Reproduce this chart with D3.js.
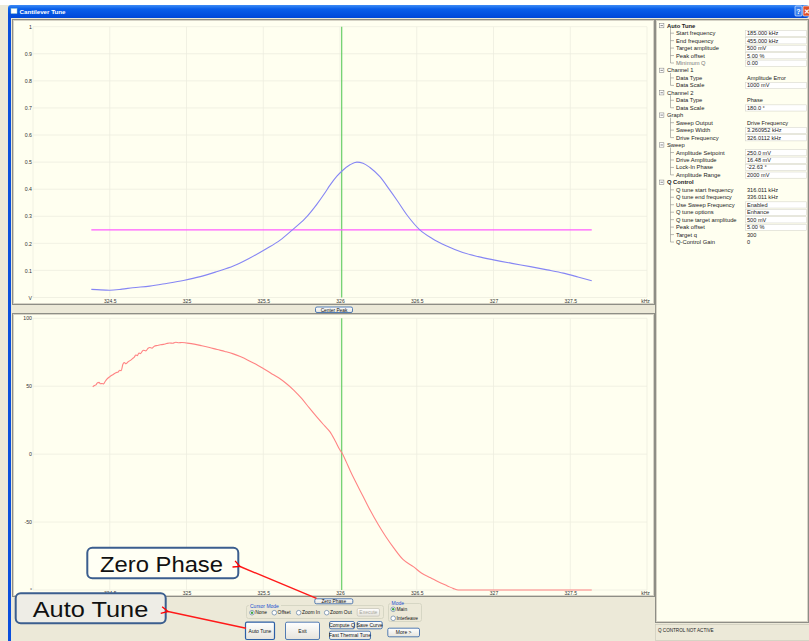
<!DOCTYPE html>
<html><head><meta charset="utf-8">
<script src="https://cdn.jsdelivr.net/npm/d3@7"></script>
<style>body{margin:0;background:#fff;overflow:hidden} text{font-family:"Liberation Sans",Arial,sans-serif;}</style>
</head><body><svg id="c" width="809" height="641"></svg>
<script>
// ---------------- DATA ----------------
const ampFreq = [324.38,324.44,324.50,324.58,324.65,324.76,324.87,324.98,325.09,325.20,325.305,325.41,325.52,325.61,325.69,325.77,325.85,325.90,325.935,325.98,326.015,326.065,326.11,326.15,326.195,326.26,326.32,326.37,326.44,326.52,326.60,326.695,326.80,326.90,327.00,327.12,327.24,327.35,327.455,327.55,327.64];
const ampVal  = [0.030,0.028,0.027,0.031,0.036,0.042,0.052,0.063,0.077,0.096,0.116,0.145,0.180,0.212,0.250,0.290,0.345,0.385,0.415,0.448,0.468,0.490,0.500,0.496,0.480,0.446,0.400,0.360,0.302,0.250,0.218,0.190,0.166,0.151,0.139,0.126,0.114,0.102,0.090,0.076,0.062];
const setpointFreq = [324.38, 327.64];
const setpointVal = 0.25;
const cursorFreq = 326.0112;
const phaseFreq = [324.389,324.40,324.41,324.42,324.43,324.44,324.45,324.46,324.47,324.48,324.50,324.52,324.54,324.555,324.565,324.575,324.585,324.595,324.605,324.62,324.635,324.65,324.66,324.67,324.68,324.69,324.70,324.71,324.72,324.735,324.75,324.76,324.775,324.79,324.81,324.83,324.85,324.87,324.89,324.91,324.93,324.95,324.97,325.00,325.05,325.10,325.15,325.20,325.25,325.30,325.35,325.40,325.45,325.50,325.55,325.60,325.65,325.70,325.75,325.80,325.85,325.90,325.935,325.97,326.00,326.015,326.04,326.065,326.10,326.15,326.195,326.25,326.30,326.35,326.41,326.48,326.53,326.59,326.64,326.70,326.74,326.77,327.64];
const phaseVal  = [49.5,50.5,51,52.5,52.8,51.8,52.0,51.7,53.5,55,57,58.5,60,60.5,61.8,61.5,66,67.5,66.5,68,69,70.5,71.5,73,72.5,74.5,74,75.5,76.5,76,78,78.5,78,79.5,80,80.5,80.8,81.4,81.8,81.6,82.4,82,82.2,81.8,81,79.8,78.5,77,75.6,74,71.8,69.2,66.3,63,59.6,56.2,52,47,41,34,27.2,20.8,16.4,9.5,3,0.5,-5.5,-11.8,-20,-31,-41,-52,-61,-69,-77.5,-83,-87.5,-91,-94,-97,-99,-100,-100];
const xTicks = [324, 324.5, 325, 325.5, 326, 326.5, 327, 327.5, 328];
const xTickLabels = ["", "324.5", "325", "325.5", "326", "326.5", "327", "327.5", "kHz"];
const ampTicks = [0, 0.1, 0.2, 0.3, 0.4, 0.5, 0.6, 0.7, 0.8, 0.9, 1];
const ampTickLabels = ["V", "0.1", "0.2", "0.3", "0.4", "0.5", "0.6", "0.7", "0.8", "0.9", "1"];
const phaseTicks = [-100, -50, 0, 50, 100];
const phaseTickLabels = ["°", "-50", "0", "50", "100"];
const treeLabels = ["Auto Tune","Start frequency","End frequency","Target amplitude","Peak offset","Minimum Q","Channel 1","Data Type","Data Scale","Channel 2","Data Type","Data Scale","Graph","Sweep Output","Sweep Width","Drive Frequency","Sweep","Amplitude Setpoint","Drive Amplitude","Lock-In Phase","Amplitude Range","Q Control","Q tune start frequency","Q tune end frequency","Use Sweep Frequency","Q tune options","Q tune target amplitude","Peak offset","Target q","Q-Control Gain"];
const treeValues = ["","185.000 kHz","455.000 kHz","500 mV","5.00 %","0.00","","Amplitude Error","1000 mV","","Phase","180.0 °","","Drive Frequency","3.260952 kHz","326.0112 kHz","","250.0 mV","16.48 mV","-22.63 °","2000 mV","","316.011 kHz","336.011 kHz","Enabled","Enhance","500 mV","5.00 %","300","0"];
const treeBoxed = [0,1,1,1,1,1,0,0,1,0,0,1,0,0,1,1,0,1,1,1,1,0,0,0,1,1,1,1,0,0];
const treeBold = ["Auto Tune","Q Control"];

// ---------------- DRAW ----------------
const svg = d3.select("#c");
const defs = svg.append("defs");
const tg = defs.append("linearGradient").attr("id","tb").attr("x1",0).attr("y1",0).attr("x2",0).attr("y2",1);
tg.append("stop").attr("offset","0%").attr("stop-color","#3D8BF5");
tg.append("stop").attr("offset","30%").attr("stop-color","#0A5FEA");
tg.append("stop").attr("offset","100%").attr("stop-color","#0047D8");
const bg = defs.append("linearGradient").attr("id","btn").attr("x1",0).attr("y1",0).attr("x2",0).attr("y2",1);
bg.append("stop").attr("offset","0%").attr("stop-color","#FFFFFF");
bg.append("stop").attr("offset","100%").attr("stop-color","#E6E4DC");

svg.append("rect").attr("width",809).attr("height",641).attr("fill","#ECE9D8");
svg.append("rect").attr("width",809).attr("height",5).attr("fill","#FFFFFF");
svg.append("rect").attr("x",8).attr("y",5).attr("width",801).attr("height",13).attr("rx",3).attr("fill","url(#tb)");
svg.append("rect").attr("x",8).attr("y",14).attr("width",3).attr("height",627).attr("fill","#0A4FDC");
svg.append("rect").attr("x",11).attr("y",8.5).attr("width",6).attr("height",5).attr("fill","#fff").attr("stroke","#9CC").attr("stroke-width",0.5);
svg.append("text").attr("x",19.5).attr("y",14).attr("font-size",6.2).attr("font-weight","bold").attr("fill","#fff").text("Cantilever Tune");
svg.append("rect").attr("x",795).attr("y",6).attr("width",7).attr("height",10).attr("rx",1).attr("fill","#3A80F0").attr("stroke","#fff").attr("stroke-width",0.6);
svg.append("text").attr("x",798.5).attr("y",14).attr("font-size",7).attr("text-anchor","middle").attr("fill","#fff").attr("font-weight","bold").text("?");
svg.append("rect").attr("x",803).attr("y",6).attr("width",7).attr("height",10).attr("rx",1).attr("fill","#E0502A").attr("stroke","#fff").attr("stroke-width",0.6);
svg.append("text").attr("x",806.5).attr("y",14).attr("font-size",7).attr("text-anchor","middle").attr("fill","#fff").attr("font-weight","bold").text("✕");

const cream = "#FFFFF0";
function panel(x0,y0,x1,y1){
  svg.append("rect").attr("x",x0+0.5).attr("y",y0+0.5).attr("width",x1-x0-1).attr("height",y1-y0-1).attr("fill",cream).attr("stroke","#8E8E86").attr("stroke-width",1);
  svg.append("rect").attr("x",x0+1.5).attr("y",y0+1.5).attr("width",x1-x0-3).attr("height",y1-y0-3).attr("fill","none").attr("stroke","#D6D3C6").attr("stroke-width",1);
}
panel(12,19,655,305);
panel(12,313,655,597);
panel(655,19,809,623);

const x = d3.scaleLinear().domain([324,328]).range([33,647]);
const yA = d3.scaleLinear().domain([0,1]).range([297.5,26.7]);
const yP = d3.scaleLinear().domain([-100,100]).range([590,318.3]);
const grid = "#EDEDDF";

function plot(y, ticks, labels){
  const g = svg.append("g");
  g.selectAll("line.v").data(xTicks).join("line").attr("x1",d=>x(d)).attr("x2",d=>x(d)).attr("y1",y.range()[1]).attr("y2",y.range()[0]).attr("stroke",grid).attr("stroke-width",0.8);
  g.selectAll("line.h").data(ticks).join("line").attr("class","h").attr("x1",x.range()[0]).attr("x2",x.range()[1]).attr("y1",d=>y(d)).attr("y2",d=>y(d)).attr("stroke",grid).attr("stroke-width",0.8);
  const yAxis = d3.axisLeft(y).tickValues(ticks).tickSize(0).tickPadding(1).tickFormat((d,i)=>labels[i]);
  const ya = g.append("g").attr("transform",`translate(${x.range()[0]},0)`).call(yAxis);
  ya.select(".domain").remove();
  ya.selectAll("text").attr("font-size",5.2).attr("fill","#333").attr("font-family","Liberation Sans, Arial, sans-serif");
  const xAxis = d3.axisBottom(x).tickValues(xTicks).tickSize(0).tickPadding(1.5).tickFormat((d,i)=>xTickLabels[i]);
  const xa = g.append("g").attr("transform",`translate(0,${y.range()[0]})`).call(xAxis);
  xa.select(".domain").remove();
  xa.selectAll("text").attr("font-size",5).attr("fill","#333").attr("font-family","Liberation Sans, Arial, sans-serif");
  xa.selectAll(".tick").filter(d=>d===328).select("text").attr("dx",-2);
  g.append("line").attr("x1",x(cursorFreq)).attr("x2",x(cursorFreq)).attr("y1",y.range()[1]).attr("y2",y.range()[0]).attr("stroke","#5CCB5C").attr("stroke-width",1.1);
  return g;
}
const gA = plot(yA, ampTicks, ampTickLabels);
const gP = plot(yP, phaseTicks, phaseTickLabels);

gA.append("path").datum(setpointFreq).attr("d", d3.line().x(d=>x(d)).y(()=>yA(setpointVal))).attr("stroke","#FF5CFF").attr("stroke-width",1.3).attr("fill","none");
gA.append("path").datum(d3.range(ampFreq.length)).attr("d", d3.line().curve(d3.curveMonotoneX).x(i=>x(ampFreq[i])).y(i=>yA(ampVal[i]))).attr("stroke","#8686F4").attr("stroke-width",1.1).attr("fill","none");
gP.append("path").datum(d3.range(phaseFreq.length)).attr("d", d3.line().curve(d3.curveMonotoneX).x(i=>x(phaseFreq[i])).y(i=>yP(phaseVal[i]))).attr("stroke","#FF8484").attr("stroke-width",1.1).attr("fill","none");

// buttons
function button(x0,y0,x1,y1,label,opts={}){
  svg.append("rect").attr("x",x0+0.5).attr("y",y0+0.5).attr("width",x1-x0-1).attr("height",y1-y0-1).attr("rx",1.5)
    .attr("fill","url(#btn)").attr("stroke",opts.disabled?"#C9C7BA":"#2C5FA6").attr("stroke-width",opts.bold?1.2:0.8);
  svg.append("text").attr("x",(x0+x1)/2).attr("y",(y0+y1)/2+1.8).attr("text-anchor","middle").attr("font-size",opts.fs||5).attr("fill",opts.disabled?"#A9A79C":"#111").text(label);
}
button(315,306.5,353,313,"Center Peak",{fs:4.8});
button(314.3,598.3,353.3,604.3,"Zero Phase",{fs:4.8});

// Cursor mode group
svg.append("rect").attr("x",246.5).attr("y",605.5).attr("width",137).attr("height",13).attr("rx",2).attr("fill","none").attr("stroke","#D0D0BF").attr("stroke-width",0.8);
svg.append("rect").attr("x",249).attr("y",603).attr("width",32).attr("height",5).attr("fill","#ECE9D8");
svg.append("text").attr("x",250).attr("y",608).attr("font-size",5).attr("fill","#1A4FD0").text("Cursor Mode");
function radio(cx,cy,label,on){
  svg.append("circle").attr("cx",cx).attr("cy",cy).attr("r",2.3).attr("fill","#fff").attr("stroke","#4A6E9A").attr("stroke-width",0.6);
  if(on) svg.append("circle").attr("cx",cx).attr("cy",cy).attr("r",1.2).attr("fill","#3FA33F");
  svg.append("text").attr("x",cx+3.3).attr("y",cy+1.7).attr("font-size",4.9).attr("fill","#111").text(label);
}
radio(252,612.7,"None",true);
radio(274.3,612.7,"Offset",false);
radio(298.7,612.7,"Zoom In",false);
radio(326.7,612.7,"Zoom Out",false);
button(356.7,608,380,616.7,"Execute",{disabled:true});
// Mode group
svg.append("rect").attr("x",388.5).attr("y",603.5).attr("width",33).attr("height",18).attr("rx",2).attr("fill","none").attr("stroke","#D0D0BF").attr("stroke-width",0.8);
svg.append("rect").attr("x",390.5).attr("y",600).attr("width",12).attr("height",5).attr("fill","#ECE9D8");
svg.append("text").attr("x",391.5).attr("y",604.8).attr("font-size",5).attr("fill","#1A4FD0").text("Mode");
radio(393.2,609.3,"Main",true);
radio(393.2,618.3,"Interleave",false);

button(245,621.7,275,640,"Auto Tune",{bold:true});
button(285,621.7,320,640,"Exit");
button(329,621,355,629.3,"Compute Q");
button(356.7,621,382.7,629.3,"Save Curve");
button(329,630.7,371,640,"Fast Thermal Tune");
button(387.3,627.7,420,637.3,"More >");

// right property tree
const rowY = i => 25.7 + i*7.46;
const tg2 = svg.append("g");
const groups = [];
treeLabels.forEach((l,i)=>{ if(treeValues[i]===""){ groups.push({start:i,end:i}); } else { groups[groups.length-1].end = i; } });
groups.forEach(gr=>{
  const yy = rowY(gr.start);
  tg2.append("rect").attr("x",659.5).attr("y",yy-2.3).attr("width",4.4).attr("height",4.4).attr("fill","#fff").attr("stroke","#7A7A7A").attr("stroke-width",0.5);
  tg2.append("line").attr("x1",660.5).attr("x2",662.9).attr("y1",yy-0.1).attr("y2",yy-0.1).attr("stroke","#222").attr("stroke-width",0.55);
  tg2.append("line").attr("x1",670.5).attr("x2",670.5).attr("y1",yy+2.5).attr("y2",rowY(gr.end)).attr("stroke","#777").attr("stroke-width",0.5);
  for(let k=gr.start+1;k<=gr.end;k++){
    tg2.append("line").attr("x1",670.5).attr("x2",674).attr("y1",rowY(k)).attr("y2",rowY(k)).attr("stroke","#777").attr("stroke-width",0.5);
  }
});
treeLabels.forEach((l,i)=>{
  const yy = rowY(i);
  const isGroup = treeValues[i]==="";
  tg2.append("text").attr("x",isGroup?667:676).attr("y",yy+2).attr("font-size",5.8)
    .attr("font-weight",treeBold.includes(l)?"bold":"normal")
    .attr("fill", l==="Minimum Q" ? "#7A7A7A" : "#222").text(l);
  if(!isGroup){
    if(treeBoxed[i]) tg2.append("rect").attr("x",745.5).attr("y",yy-2.9).attr("width",61).attr("height",6.2).attr("fill","#fff").attr("stroke","#CFCFC4").attr("stroke-width",0.5);
    tg2.append("text").attr("x",747).attr("y",yy+2).attr("font-size",5.6).attr("fill","#222").text(treeValues[i]);
  }
});
// status bar
svg.append("rect").attr("x",655.5).attr("y",624.5).attr("width",154).attr("height",16).attr("fill","#ECE9D8").attr("stroke","#C9C6B8").attr("stroke-width",0.6);
svg.append("text").attr("x",658).attr("y",631.5).attr("font-size",4.6).attr("fill","#222").text("Q CONTROL NOT ACTIVE");

// callouts
defs.append("marker").attr("id","arr").attr("viewBox","0 0 10 10").attr("refX",1).attr("refY",5).attr("markerWidth",6).attr("markerHeight",6).attr("orient","auto-start-reverse")
  .append("path").attr("d","M9,1 L1,5 L9,9").attr("fill","none").attr("stroke","#FF0000").attr("stroke-width",1.6);
function arrow(x1,y1,x2,y2){
  svg.append("line").attr("x1",x1).attr("y1",y1).attr("x2",x2).attr("y2",y2).attr("stroke","#FF1A1A").attr("stroke-width",1.4).attr("marker-start","url(#arr)");
}
function callout(x0,y0,x1,y1,label,tx,ty,tw,fill){
  svg.append("rect").attr("x",x0).attr("y",y0).attr("width",x1-x0).attr("height",y1-y0).attr("rx",5).attr("fill",fill).attr("stroke","#3B5E8E").attr("stroke-width",2);
  svg.append("text").attr("x",tx).attr("y",ty).attr("font-size",22).attr("font-family","Lato, 'Open Sans', sans-serif").attr("fill","#111").attr("textLength",tw).attr("lengthAdjust","spacingAndGlyphs").text(label);
}
callout(87.3,547.7,238.3,578.3,"Zero Phase",100,571.7,123,"#FFFFF4");
arrow(240,566.5,316.5,598.3);
callout(15.7,593.3,165.7,623.3,"Auto Tune",32.7,617.3,115.6,"#EEEDE6");
arrow(168,611.5,246,628.3);
</script></body></html>
